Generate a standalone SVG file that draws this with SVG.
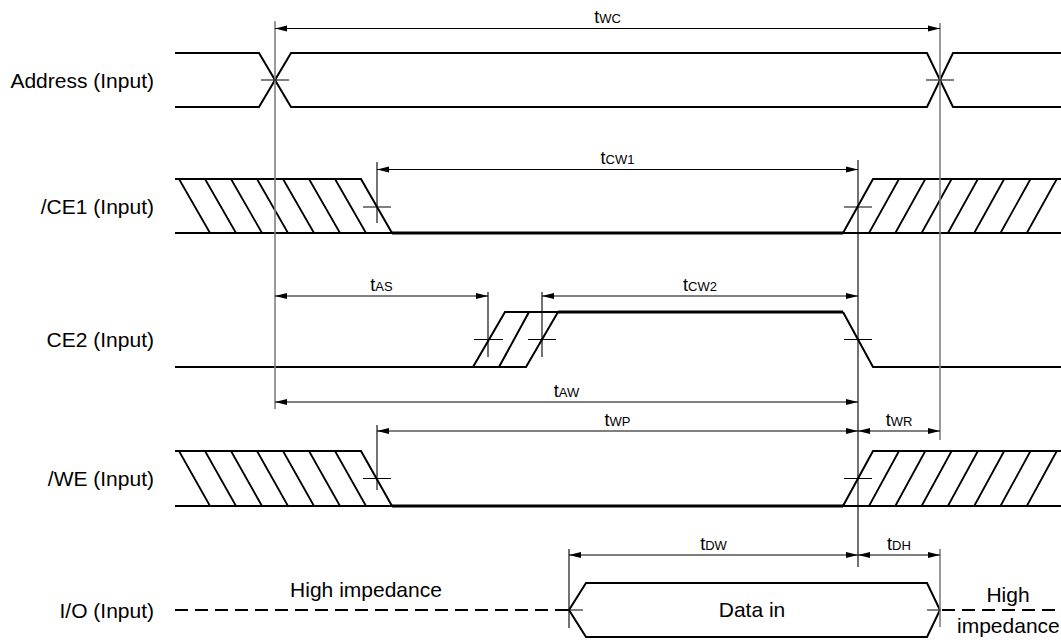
<svg xmlns="http://www.w3.org/2000/svg" width="1061" height="643" viewBox="0 0 1061 643">
<style>
.sig{fill:none;stroke:#000;stroke-width:2;stroke-linejoin:miter}
.thk{fill:none;stroke:#000;stroke-width:3}
.hat{fill:none;stroke:#000;stroke-width:1.8}
.dash{fill:none;stroke:#000;stroke-width:2;stroke-dasharray:13 7}
.gray{fill:none;stroke:#808080;stroke-width:1.6}
.mk{fill:none;stroke:#000;stroke-width:1.1}
.dim{fill:none;stroke:#000;stroke-width:1.1;marker-start:url(#ah);marker-end:url(#ah)}
.lbl{font-family:"Liberation Sans",Arial,sans-serif;font-size:21px;fill:#000}
.tl{font-family:"Liberation Sans",Arial,sans-serif;font-size:18px;fill:#000;text-anchor:middle}
.sub{font-size:13px}
</style>
<defs>
<marker id="ah" markerUnits="userSpaceOnUse" markerWidth="12" markerHeight="6" refX="12" refY="3" orient="auto-start-reverse" overflow="visible">
<path d="M0,0 L12,3 L0,6 z" fill="#000"/>
</marker>
</defs>

<g id="labels">
<text class="lbl" x="154" y="87.5" text-anchor="end">Address (Input)</text>
<text class="lbl" x="154" y="213.5" text-anchor="end">/CE1 (Input)</text>
<text class="lbl" x="154" y="347" text-anchor="end">CE2 (Input)</text>
<text class="lbl" x="154" y="486" text-anchor="end">/WE (Input)</text>
<text class="lbl" x="154" y="617.5" text-anchor="end">I/O (Input)</text>
</g>

<g id="address">
<path class="sig" d="M175,53 H259 L291,107 H927 L953,53 H1061"/>
<path class="sig" d="M175,107 H259 L291,53 H927 L953,107 H1061"/>
</g>

<g id="ce1">
<path class="sig" d="M175,179 H361 L392,233 H175"/>
<path class="thk" d="M392,233 H843"/>
<path class="sig" d="M843,233 L873,179 H1061 M843,233 H1061"/>
<path class="hat" d="M179,179 L210,233 M205,179 L236,233 M231,179 L262,233 M257,179 L288,233 M283,179 L314,233 M309,179 L340,233 M335,179 L366,233"/>
<path class="hat" d="M869,233 L899,179 M895.3,233 L925.3,179 M921.6,233 L951.6,179 M947.9,233 L977.9,179 M974.2,233 L1004.2,179 M1000.5,233 L1030.5,179 M1026.8,233 L1056.8,179"/>
</g>

<g id="ce2">
<path class="sig" d="M175,367 H526 L558,312 H505 L473,367 M499,367 L529,312"/>
<path class="thk" d="M558,312 H843"/>
<path class="sig" d="M843,312 L873,367 H1061"/>
</g>

<g id="we">
<path class="sig" d="M175,451 H361 L392,506 H175"/>
<path class="thk" d="M392,506 H843"/>
<path class="sig" d="M843,506 L873,451 H1061 M843,506 H1061"/>
<path class="hat" d="M179,451 L210,506 M205,451 L236,506 M231,451 L262,506 M257,451 L288,506 M283,451 L314,506 M309,451 L340,506 M335,451 L366,506"/>
<path class="hat" d="M869,506 L899,451 M895.3,506 L925.3,451 M921.6,506 L951.6,451 M947.9,506 L977.9,451 M974.2,506 L1004.2,451 M1000.5,506 L1030.5,451 M1026.8,506 L1056.8,451"/>
</g>

<g id="io">
<path class="dash" d="M175,610 H569"/>
<path class="dash" d="M942,610 H1061"/>
<path class="sig" d="M569,610 L586,583 H927 L940,610 L927,637 H586 Z"/>
<text class="lbl" x="366" y="597" text-anchor="middle">High impedance</text>
<text class="lbl" x="752" y="617" text-anchor="middle">Data in</text>
<text class="lbl" x="1008" y="602" text-anchor="middle">High</text>
<text class="lbl" x="957" y="633">impedance</text>
</g>

<g id="connectors">
<path class="gray" d="M275,21 V409 M940,23 V440 M940,549 V627"/>
<path class="mk" d="M377,162 V223 M858,160 V567 M488,292 V357 M542,292 V357 M377,425 V490 M569,549 V628"/>
<path class="mk" d="M261,80 H289 M926,80 H954 M363,207 H391 M844,207 H872 M474,339.5 H503 M528,339.5 H556 M844,339.5 H872 M363,478.5 H391 M844,478.5 H872 M569,610 H583 M927,610 H940"/>
<line class="dim" x1="275" y1="28.5" x2="940" y2="28.5"/>
<line class="dim" x1="377" y1="169.5" x2="858" y2="169.5"/>
<line class="dim" x1="275" y1="296" x2="488" y2="296"/>
<line class="dim" x1="542" y1="296" x2="858" y2="296"/>
<line class="dim" x1="275" y1="402" x2="858" y2="402"/>
<line class="dim" x1="377" y1="431" x2="858" y2="431"/>
<line class="dim" x1="858" y1="431" x2="940" y2="431"/>
<line class="dim" x1="569" y1="555" x2="858" y2="555"/>
<line class="dim" x1="858" y1="555" x2="940" y2="555"/>
<text class="tl" x="607.5" y="23">t<tspan class="sub">WC</tspan></text>
<text class="tl" x="617.5" y="163.5">t<tspan class="sub">CW1</tspan></text>
<text class="tl" x="381.5" y="291">t<tspan class="sub">AS</tspan></text>
<text class="tl" x="700" y="291">t<tspan class="sub">CW2</tspan></text>
<text class="tl" x="566.5" y="397">t<tspan class="sub">AW</tspan></text>
<text class="tl" x="617.5" y="425.5">t<tspan class="sub">WP</tspan></text>
<text class="tl" x="899" y="425.5">t<tspan class="sub">WR</tspan></text>
<text class="tl" x="713.5" y="549.5">t<tspan class="sub">DW</tspan></text>
<text class="tl" x="899" y="549.5">t<tspan class="sub">DH</tspan></text>
</g>
</svg>
